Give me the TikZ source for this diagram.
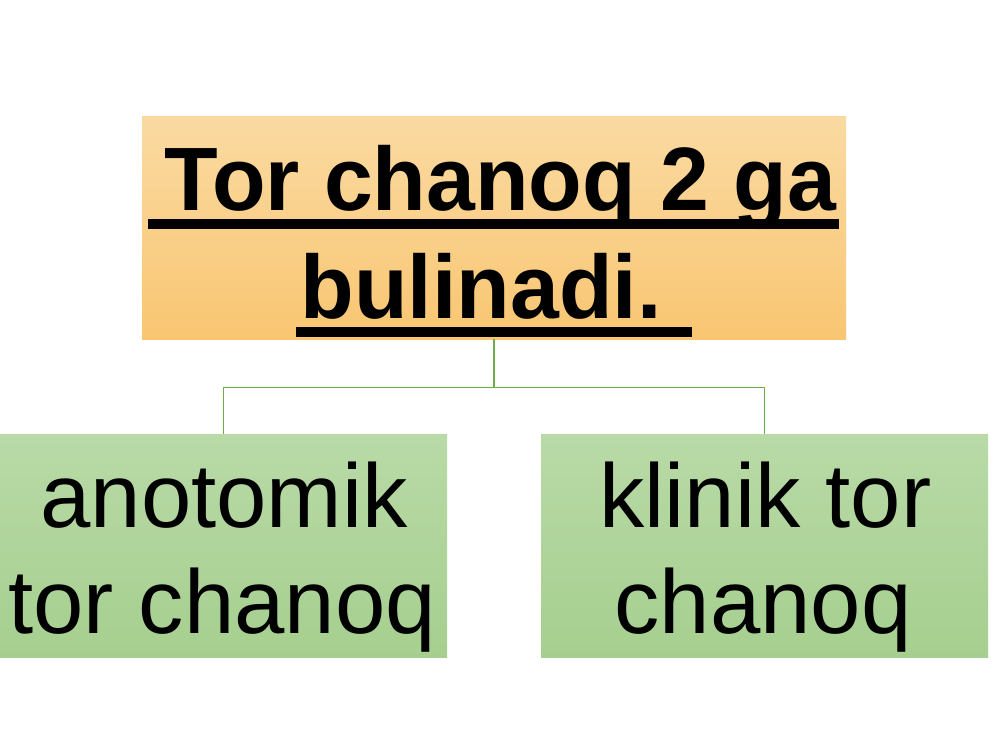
\documentclass[tikz,border=0pt]{standalone}
\usepackage{fontspec}
\setmainfont{Liberation Sans}
\definecolor{orTop}{HTML}{FADAA2}
\definecolor{orBot}{HTML}{F9C672}
\definecolor{grTop}{HTML}{B9DAA7}
\definecolor{grBot}{HTML}{A6CF8F}
\definecolor{conn}{HTML}{70AD47}
\tikzset{
  topbox/.style={rectangle, inner sep=0pt, minimum width=704pt, minimum height=223pt, top color=orTop, bottom color=orBot, draw=none},
  greenbox/.style={rectangle, inner sep=0pt, minimum width=447pt, minimum height=223pt, top color=grTop, bottom color=grBot, draw=none},
  titletext/.style={anchor=base, inner sep=0pt, font=\fontsize{90}{106}\selectfont\bfseries, xscale=0.975, transform shape},
  boxtext/.style={anchor=base, inner sep=0pt, font=\fontsize{90.5}{105}\selectfont},
  connline/.style={draw=conn, line width=1.2pt},
  uline/.style={fill=black}
}
\begin{document}
\begin{tikzpicture}[x=1pt,y=1pt]
\useasboundingbox (0,0) rectangle (1000,-750);
\fill[white] (0,0) rectangle (1000,-750);
\node[topbox] (top) at (494,-227.5) {};
\node[greenbox] (left) at (223.5,-545.5) {};
\node[greenbox] (right) at (764.5,-545.5) {};
\draw[connline] (top.south) -- ++(0,-48) coordinate (mid) -| (left.north);
\draw[connline] (mid) -| (right.north);
\node[titletext] (t1) at (500.5,-210) {Tor chanoq 2 ga};
\node[titletext] (t2) at (481,-318) {bulinadi.};
\fill[uline] (148,-218.5) rectangle (839,-228.5);
\fill[uline] (296,-327) rectangle (692,-337);
\node[boxtext] (l1) at (224,-527) {anotomik};
\node[boxtext] (l2) at (222,-633) {tor chanoq};
\node[boxtext] (r1) at (765.5,-527) {klinik tor};
\node[boxtext] (r2) at (763,-633) {chanoq};
\end{tikzpicture}
\end{document}
